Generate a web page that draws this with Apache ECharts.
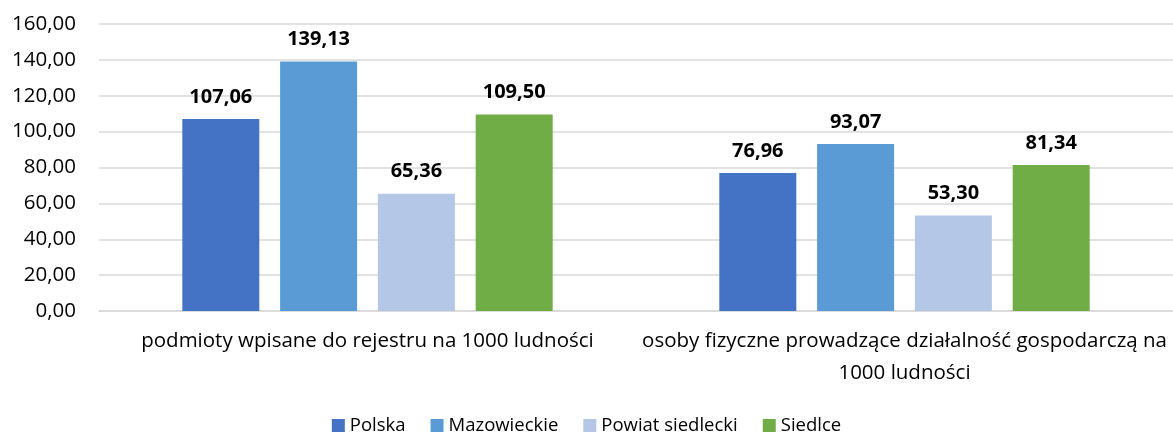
<!DOCTYPE html>
<html>
<head>
<meta charset="utf-8">
<script src="https://cdn.jsdelivr.net/npm/echarts@6/dist/echarts.min.js"></script>
<style>
  html, body { margin: 0; padding: 0; background: #fff; }
  #chart { width: 1173px; height: 434px; }
</style>
</head>
<body>
<div id="chart"></div>
<script>
// categories and values
var categories = [
  'podmioty wpisane do rejestru na 1000 ludności',
  'osoby fizyczne prowadzące działalność gospodarczą na\n1000 ludności'
]
var polska = [107.06, 76.96]
var mazowieckie = [139.13, 93.07]
var powiat = [65.36, 53.30]
var siedlce = [109.50, 81.34]
var yTicks = [0, 20, 40, 60, 80, 100, 120, 140, 160]

var font = 'Open Sans'
var fmt = function (v) { return v.toFixed(2).replace('.', ',') }

var myChart = echarts.init(document.getElementById('chart'))

function bar(name, data, color) {
  return {
    name: name,
    type: 'bar',
    data: data,
    barWidth: 77,
    barGap: '27%',
    itemStyle: { color: color },
    label: {
      show: true,
      position: 'top',
      distance: 12,
      fontFamily: font,
      fontWeight: 'bold',
      fontSize: 20,
      color: '#000',
      formatter: function (p) { return fmt(p.value) }
    }
  }
}

myChart.setOption({
  animation: false,
  textStyle: { fontFamily: font },
  grid: { left: 99, right: 0, top: 24, bottom: 123 },
  legend: {
    top: 411,
    left: 'center',
    itemWidth: 13,
    itemHeight: 13,
    itemGap: 25,
    icon: 'rect',
    textStyle: { fontFamily: font, fontSize: 18.5, color: '#000' },
    data: ['Polska', 'Mazowieckie', 'Powiat siedlecki', 'Siedlce']
  },
  xAxis: {
    type: 'category',
    data: categories,
    axisLine: { lineStyle: { color: '#d9d9d9', width: 1.5 } },
    axisTick: { show: false },
    axisLabel: {
      fontFamily: font,
      fontSize: 20.5,
      color: '#000',
      margin: 14,
      lineHeight: 32,
      interval: 0
    }
  },
  yAxis: {
    type: 'value',
    min: yTicks[0],
    max: yTicks[yTicks.length - 1],
    interval: 20,
    axisLine: { show: false },
    axisTick: { show: false },
    splitLine: { lineStyle: { color: '#d9d9d9', width: 1.5 } },
    axisLabel: {
      fontFamily: font,
      fontSize: 20.5,
      color: '#000',
      margin: 23,
      formatter: function (v) { return fmt(v) }
    }
  },
  series: [
    bar('Polska', polska, '#4472c4'),
    bar('Mazowieckie', mazowieckie, '#5b9bd5'),
    bar('Powiat siedlecki', powiat, '#b4c7e7'),
    bar('Siedlce', siedlce, '#70ad47')
  ]
})
</script>
</body>
</html>
